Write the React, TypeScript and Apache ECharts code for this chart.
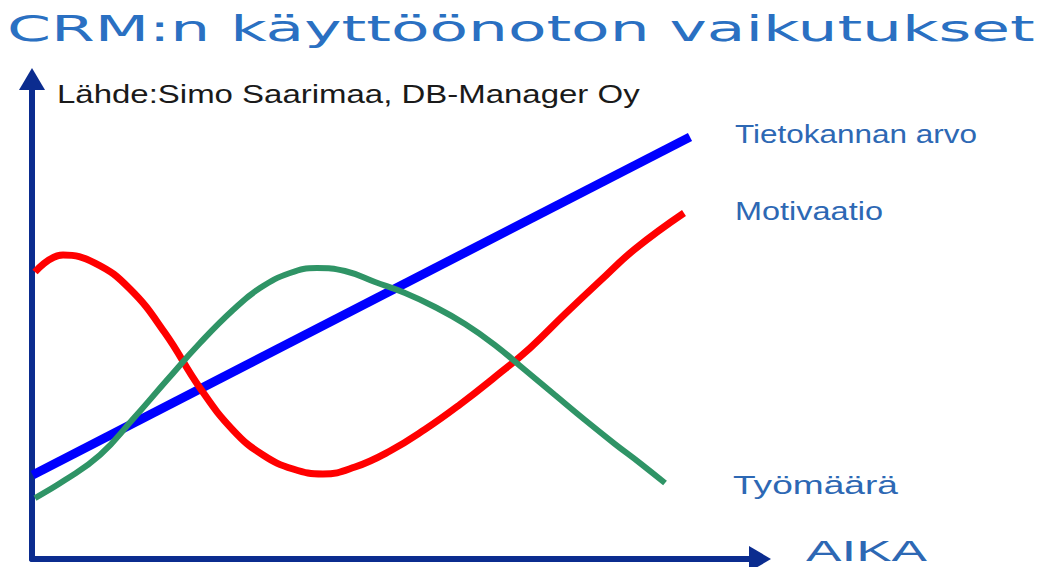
import React, { useEffect, useRef } from 'react';
import * as echarts from 'echarts';

const TITLE = 'CRM:n käyttöönoton vaikutukset';
const SOURCE = 'Lähde:Simo Saarimaa, DB-Manager Oy';
const X_AXIS_NAME = 'AIKA';
const SERIES_NAMES = ['Tietokannan arvo', 'Motivaatio', 'Työmäärä'];

// Tietokannan arvo (blue, straight line)
const blueTime = [0.1, 94.0];
const blueValues = [16.8, 85.9];

// Motivaatio (red)
const redTime = [0.43, 4.43, 9.0, 14.0, 19.0, 24.0, 28.71, 33.0, 37.29, 41.57, 46.14, 51.14, 56.14, 61.14, 66.14, 71.14, 76.14, 81.14, 86.14, 93.14];
const redValues = [58.28, 61.76, 60.12, 54.81, 45.81, 34.56, 25.97, 20.86, 18.0, 16.97, 18.4, 21.68, 26.1, 31.2, 36.81, 42.74, 49.69, 56.44, 62.99, 70.35];

// Työmäärä (green)
const greenTime = [0.43, 4.71, 9.71, 14.43, 19.29, 24.0, 28.71, 32.57, 36.86, 40.71, 44.71, 49.0, 53.29, 57.57, 61.86, 66.14, 70.43, 74.71, 79.0, 83.29, 86.86, 90.43];
const greenValues = [12.07, 15.74, 20.86, 28.22, 36.2, 43.76, 50.51, 55.01, 58.08, 59.1, 58.49, 56.24, 53.99, 51.13, 47.65, 43.35, 38.24, 33.13, 28.02, 23.11, 19.22, 15.13];

const NAVY = '#0b2c8f';
const LABEL_BLUE = '#2d68b4';
const TITLE_BLUE = '#2a70c2';

const zip = (xs: number[], ys: number[]) => xs.map((x, i) => [x, ys[i]]);

function measure(text: string, size: number, family: string): number {
  const c = document.createElement('canvas').getContext('2d');
  if (!c) return text.length * size * 0.55;
  c.font = `${size}px ${family}`;
  return c.measureText(text).width;
}

function fitText(text: string, x: number, y: number, width: number, size: number, family: string, fill: string) {
  const natural = measure(text, size, family);
  return {
    type: 'text',
    x,
    y,
    scaleX: width / natural,
    style: {
      text,
      fontSize: size,
      fontFamily: family,
      fill,
      align: 'left',
      verticalAlign: 'middle',
    },
  };
}

export default function App() {
  const ref = useRef<HTMLDivElement>(null);

  useEffect(() => {
    if (!ref.current) return;
    const chart = echarts.init(ref.current, undefined, { renderer: 'svg' });
    const SANS = '"Liberation Sans", Arial, sans-serif';
    const WIDE = '"DejaVu Sans", sans-serif';

    const axisLine = {
      show: true,
      onZero: false,
      symbol: ['none', 'triangle'],
      symbolSize: [26, 22],
      lineStyle: { color: NAVY, width: 6 },
    };

    chart.setOption({
      animation: false,
      backgroundColor: '#ffffff',
      grid: { left: 32, right: 287, top: 79, bottom: 8, containLabel: false },
      xAxis: {
        type: 'value',
        min: 0,
        max: 104,
        axisLine,
        axisTick: { show: false },
        axisLabel: { show: false },
        splitLine: { show: false },
      },
      yAxis: {
        type: 'value',
        min: -0.4,
        max: 97.75,
        axisLine,
        axisTick: { show: false },
        axisLabel: { show: false },
        splitLine: { show: false },
      },
      series: [
        {
          name: SERIES_NAMES[0],
          type: 'line',
          data: zip(blueTime, blueValues),
          showSymbol: false,
          lineStyle: { color: '#0000ff', width: 9 },
          z: 2,
        },
        {
          name: SERIES_NAMES[1],
          type: 'line',
          data: zip(redTime, redValues),
          smooth: 0.45,
          showSymbol: false,
          lineStyle: { color: '#ff0000', width: 7 },
          z: 3,
        },
        {
          name: SERIES_NAMES[2],
          type: 'line',
          data: zip(greenTime, greenValues),
          smooth: 0.45,
          showSymbol: false,
          lineStyle: { color: '#2f9466', width: 6 },
          z: 4,
        },
      ],
      graphic: [
        fitText(TITLE, 7, 28, 1028, 36, WIDE, TITLE_BLUE),
        fitText(SOURCE, 57, 94, 583, 25, SANS, '#1a1a1a'),
        fitText(SERIES_NAMES[0], 735, 134, 242, 25, SANS, LABEL_BLUE),
        fitText(SERIES_NAMES[1], 735, 211, 148, 26, SANS, LABEL_BLUE),
        fitText(SERIES_NAMES[2], 733, 485, 165, 26, SANS, LABEL_BLUE),
        fitText(X_AXIS_NAME, 806, 551, 121, 29, SANS, LABEL_BLUE),
      ],
    });

    return () => chart.dispose();
  }, []);

  return (
    <div
      ref={ref}
      style={{ position: 'absolute', left: 0, top: 0, width: 1047, height: 567 }}
    />
  );
}
